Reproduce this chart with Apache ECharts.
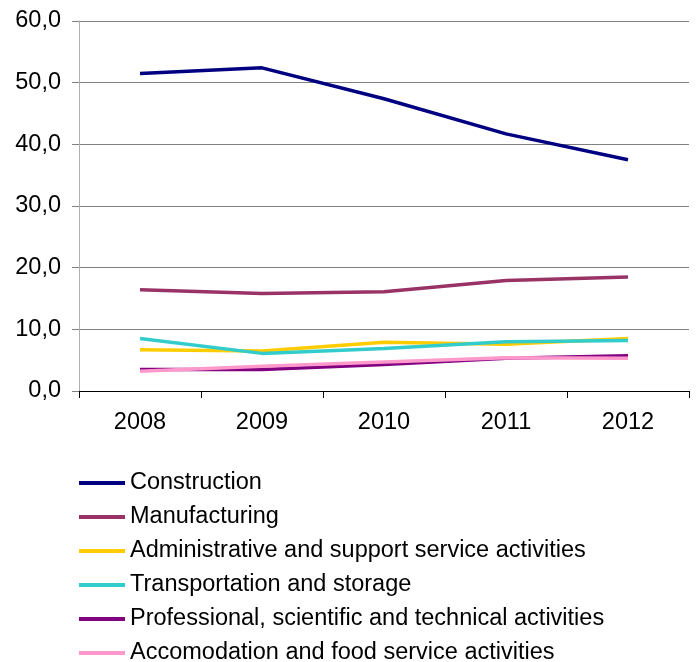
<!DOCTYPE html>
<html>
<head>
<meta charset="utf-8">
<script src="https://cdn.jsdelivr.net/npm/echarts@6/dist/echarts.min.js"></script>
<style>
  html, body { margin: 0; padding: 0; background: #ffffff; }
  #chart { width: 696px; height: 662px; }
</style>
</head>
<body>
<div id="chart"></div>
<script>
// Years on the category axis
const years = ['2008', '2009', '2010', '2011', '2012'];

// Values per economic activity
const construction   = [51.5, 52.4, 47.4, 41.7, 37.5];
const manufacturing  = [16.4, 15.8, 16.1, 17.9, 18.5];
const administrative = [6.7, 6.5, 7.9, 7.6, 8.5];
const transportation = [8.5, 6.1, 6.9, 8.0, 8.2];
const professional   = [3.5, 3.5, 4.3, 5.3, 5.7];
const accommodation  = [3.2, 4.0, 4.7, 5.4, 5.3];

// Y-axis tick values
const yTicks = [0, 10, 20, 30, 40, 50, 60];

const seriesDefs = [
  { name: 'Construction', data: construction, color: '#000080' },
  { name: 'Manufacturing', data: manufacturing, color: '#993366' },
  { name: 'Administrative and support service activities', data: administrative, color: '#FFCC00' },
  { name: 'Transportation and storage', data: transportation, color: '#33CCCC' },
  { name: 'Professional, scientific and technical activities', data: professional, color: '#800080' },
  { name: 'Accomodation and food service activities', data: accommodation, color: '#FF99CC' }
];

const font = '"Liberation Sans", Arial, sans-serif';
const chart = echarts.init(document.getElementById('chart'), null, { renderer: 'canvas' });

chart.setOption({
  animation: false,
  backgroundColor: '#ffffff',
  grid: { left: 79, right: 7, top: 21, bottom: 271, containLabel: false },
  xAxis: {
    type: 'category',
    data: years,
    boundaryGap: true,
    axisLine: { show: true, lineStyle: { color: '#000000', width: 1 } },
    axisTick: { show: true, length: 7, lineStyle: { color: '#000000' } },
    axisLabel: { margin: 20, fontFamily: font, fontSize: 23.5, color: '#000000' },
    splitLine: { show: false }
  },
  yAxis: {
    type: 'value',
    min: yTicks[0],
    max: yTicks[yTicks.length - 1],
    interval: 10,
    axisLine: { show: true, lineStyle: { color: '#b0b0b0', width: 1 } },
    axisTick: { show: true, length: 7, lineStyle: { color: '#808080' } },
    axisLabel: {
      margin: 18,
      fontFamily: font,
      fontSize: 23.5,
      color: '#000000',
      formatter: v => v.toFixed(1).replace('.', ',')
    },
    splitLine: { show: true, lineStyle: { color: '#808080', width: 1 } }
  },
  legend: {
    orient: 'vertical',
    left: 79,
    top: 471,
    height: 240,
    padding: 0,
    icon: 'rect',
    itemWidth: 46,
    itemHeight: 4,
    itemGap: 10,
    textStyle: { fontFamily: font, fontSize: 23.5, color: '#000000', lineHeight: 23.6 },
    data: seriesDefs.map(s => s.name)
  },
  series: seriesDefs.map(s => ({
    name: s.name,
    type: 'line',
    data: s.data,
    color: s.color,
    showSymbol: false,
    symbol: 'none',
    lineStyle: { color: s.color, width: 3.5 },
    itemStyle: { color: s.color }
  }))
});
</script>
</body>
</html>
